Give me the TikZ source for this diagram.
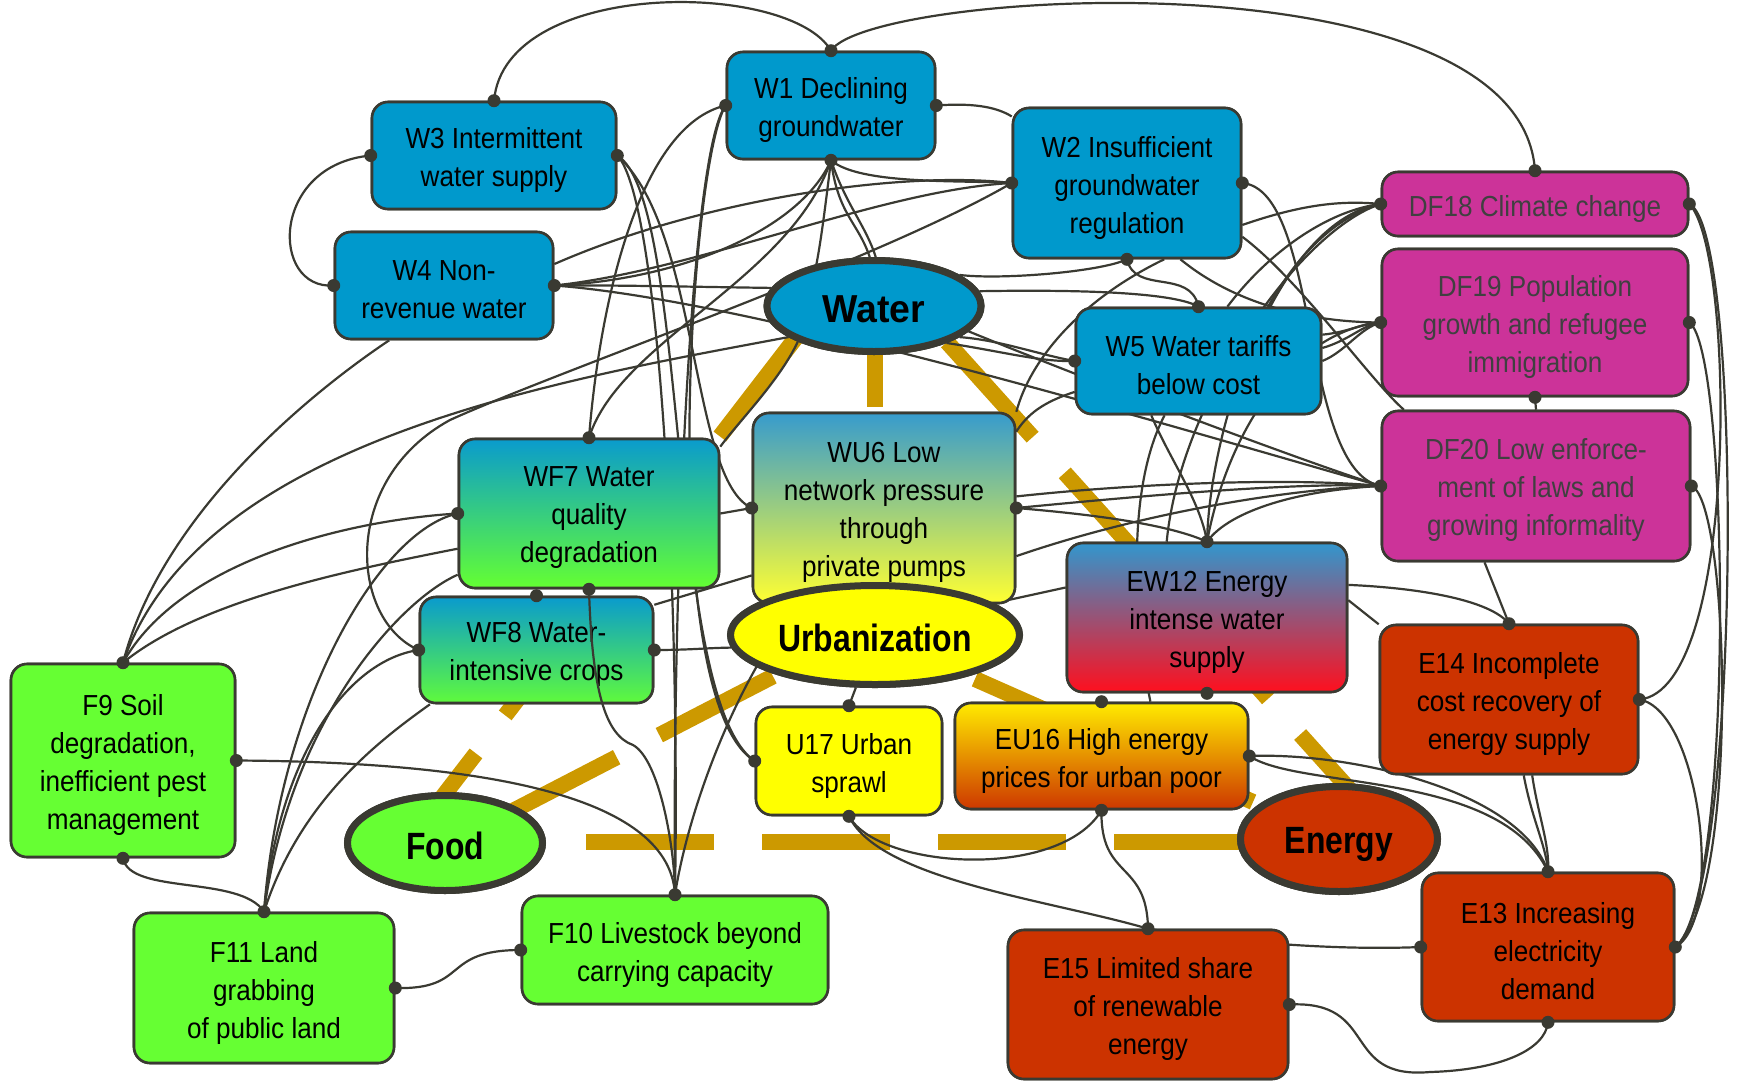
\documentclass[tikz,border=0pt]{standalone}
\usepackage{fontspec}
\newfontfamily\nf[FakeStretch=0.9]{Liberation Sans}
\newfontfamily\lf[FakeStretch=0.84]{Liberation Sans}
\newfontfamily\wf[FakeStretch=0.96]{Liberation Sans}
\usetikzlibrary{shapes.geometric,shadings}
\definecolor{ec}{HTML}{3A3A32}
\definecolor{wblue}{HTML}{0099CC}
\definecolor{dfm}{HTML}{CC3399}
\definecolor{ered}{HTML}{CC3300}
\definecolor{fgreen}{HTML}{66FF33}
\definecolor{uyel}{HTML}{FFFF00}
\definecolor{gold}{HTML}{CC9900}
\definecolor{dftext}{HTML}{404040}
\begin{document}
\begin{tikzpicture}[x=1pt,y=-1pt,
 box/.style={draw=ec, line width=2.6pt, rounded corners=16pt, inner sep=0pt},
 tl/.style={font=\nf\fontsize{29}{38}\selectfont, align=center, inner sep=0pt, yshift=-4.5pt},
 lab/.style={label={[tl]center:{#1}}},
 dlab/.style={label={[tl,text=dftext]center:{#1}}},
 ell/.style={ellipse, draw=ec, line width=7pt, inner sep=0pt},
 el/.style={font=\lf\bfseries\fontsize{38}{40}\selectfont, inner sep=0pt, yshift=-3pt},
 elab/.style={label={[el]center:{#1}}},
 con/.style={draw=ec, line width=2.2pt},
 goldl/.style={draw=gold, line width=16pt, dash pattern=on 128pt off 48pt}
]
\useasboundingbox (0,0) rectangle (1741,1080);

% gold dashed relations
\draw[goldl] (798,335) -- (397,856);
\draw[goldl] (875,279) -- (875,640);
\draw[goldl] (947,342) -- (1404,850);
\draw[goldl] (410,842) -- (1339,842);
\draw[goldl] (503,816) -- (874,624);
\draw[goldl] (975,679) -- (1339,840);

% ---------- node geometry (for connectors) ----------
\path
 node[box, minimum width=208pt, minimum height=107pt] (W1) at (831,105.5) {}
 node[box, minimum width=244pt, minimum height=107pt] (W3) at (494,155.5) {}
 node[box, minimum width=218pt, minimum height=107pt] (W4) at (444,285.5) {}
 node[box, minimum width=228pt, minimum height=150pt] (W2) at (1127,183) {}
 node[box, minimum width=306pt, minimum height=64pt] (DF18) at (1535,204) {}
 node[box, minimum width=306pt, minimum height=147pt] (DF19) at (1535,322.5) {}
 node[box, minimum width=308pt, minimum height=150pt] (DF20) at (1536,486) {}
 node[box, minimum width=245pt, minimum height=106pt] (W5) at (1198.5,361) {}
 node[box, minimum width=262pt, minimum height=190pt] (WU6) at (884,508) {}
 node[box, minimum width=260pt, minimum height=149pt] (WF7) at (589,513.5) {}
 node[box, minimum width=233pt, minimum height=106pt] (WF8) at (536.5,650) {}
 node[box, minimum width=280pt, minimum height=149pt] (EW12) at (1207,617.5) {}
 node[box, minimum width=258pt, minimum height=149pt] (E14) at (1509,699.5) {}
 node[box, minimum width=186pt, minimum height=108pt] (U17) at (849,761) {}
 node[box, minimum width=293pt, minimum height=106pt] (EU16) at (1101.5,756) {}
 node[box, minimum width=224pt, minimum height=193pt] (F9) at (123,760.5) {}
 node[box, minimum width=306pt, minimum height=108pt] (F10) at (675,950) {}
 node[box, minimum width=260pt, minimum height=150pt] (F11) at (264,988) {}
 node[box, minimum width=280pt, minimum height=149pt] (E15) at (1148,1004.5) {}
 node[box, minimum width=252pt, minimum height=148pt] (E13) at (1548,947) {}
 node[ell, minimum width=214pt, minimum height=91pt] (Water) at (874,306) {}
 node[ell, minimum width=289pt, minimum height=99pt] (Urb) at (875,635) {}
 node[ell, minimum width=195pt, minimum height=95pt] (Food) at (445,843) {}
 node[ell, minimum width=197pt, minimum height=105pt] (Energy) at (1339,839) {};

% ---------- connectors ----------
\draw[con] (W3.north) .. controls (505,-22) and (790,-20) .. (W1.north);
\draw[con] (W1.north) .. controls (870,-10) and (1520,-50) .. (DF18.north);
\draw[con] (W3.west) .. controls (270,165) and (270,290) .. (W4.west);
\draw[con] (W1.east) .. controls (970,103) and (995,106) .. (W2.150);
\draw[con] (W1.south) .. controls (860,185) and (960,180) .. (W2.west);
\draw[con] (W1.south) .. controls (826,200) and (822,235) .. (Water.144);
\draw[con] (W1.south) .. controls (838,215) and (858,222) .. (Water.95);
\draw[con] (W1.south) .. controls (846,205) and (866,226) .. (Water.88);
\draw[con] (W4.east) .. controls (620,285) and (700,287) .. (Water.170);
\draw[con] (W4.east) .. controls (680,280) and (800,230) .. (W1.south);
\draw[con] (W4.east) .. controls (700,270) and (880,190) .. (W2.west);
\draw[con] (W4.11) .. controls (700,200) and (900,170) .. (W2.west);
\draw[con] (W4.east) .. controls (750,300) and (1150,420) .. (DF20.west);
\draw[con] (Water.20) .. controls (1000,280) and (1100,272) .. (W2.south);
\draw[con] (Water.8) .. controls (1050,290) and (1170,290) .. (W5.north);
\draw[con] (Water.340) .. controls (1000,340) and (1040,355) .. (W5.west);
\draw[con] (Water.333) .. controls (1005,352) and (1040,362) .. (W5.west);
\draw[con] (Water.345) .. controls (1100,385) and (1300,460) .. (DF20.west);
\draw[con] (W2.south) .. controls (1135,295) and (1190,268) .. (W5.north);
\draw[con] (W2.east) .. controls (1320,190) and (1300,470) .. (DF20.west);
\draw[con] (W2.-20) .. controls (1300,205) and (1340,200) .. (DF18.west);
\draw[con] (W2.-55) .. controls (1230,300) and (1300,322) .. (DF19.west);
\draw[con] (W2.-25) .. controls (1300,280) and (1370,380) .. (DF20.150);
\draw[con] (W2.-64) .. controls (1080,300) and (1030,360) .. (WU6.36);
\draw[con] (W3.east) .. controls (660,200) and (680,600) .. (F10.north);
\draw[con] (W3.east) .. controls (690,200) and (665,700) .. (U17.west);
\draw[con] (W3.east) .. controls (700,230) and (690,480) .. (WU6.west);
\draw[con] (W1.west) .. controls (640,125) and (600,300) .. (WF7.north);
\draw[con] (W1.south) .. controls (790,280) and (620,340) .. (WF7.north);
\draw[con] (W1.west) .. controls (690,150) and (672,600) .. (F10.north);
\draw[con] (W1.west) .. controls (690,160) and (655,700) .. (U17.west);
% food side
\draw[con] (F9.north) .. controls (200,440) and (560,380) .. (Water.200);
\draw[con] (F9.north) .. controls (160,520) and (300,400) .. (W4.-135);
\draw[con] (F9.north) .. controls (180,560) and (350,520) .. (WF7.west);
\draw[con] (F9.north) .. controls (200,600) and (350,570) .. (WF7.195);
\draw[con] (F11.north) .. controls (280,700) and (380,530) .. (WF7.west);
\draw[con] (F11.north) .. controls (290,720) and (400,600) .. (WF7.205);
\draw[con] (F11.north) .. controls (280,750) and (350,660) .. (WF8.west);
\draw[con] (F11.north) .. controls (300,800) and (380,740) .. (WF8.-153);
\draw[con] (F9.south) .. controls (130,895) and (240,875) .. (F11.north);
\draw[con] (F9.east) .. controls (500,762) and (670,800) .. (F10.north);
\draw[con] (F11.east) .. controls (470,990) and (440,950) .. (F10.west);
\draw[con] (WF8.west) .. controls (350,620) and (340,480) .. (450,420) .. controls (560,370) and (880,260) .. (W2.west);
% centre
\draw[con] (WF7.east) -- (WU6.west);
\draw[con] (WF8.21) -- (WU6.-153);
\draw[con] (WF8.east) .. controls (690,650) and (705,648) .. (Urb.185);
\draw[con] (Water.205) .. controls (780,380) and (740,420) .. (WF7.27);
\draw[con] (Urb.250) -- (U17.north);
\draw[con] (Urb.195) .. controls (715,740) and (685,830) .. (F10.north);
\draw[con] (Urb.15) -- (EW12.168);
\draw[con] (WU6.east) .. controls (1100,515) and (1170,525) .. (EW12.north);
\draw[con] (WU6.east) .. controls (1150,495) and (1300,482) .. (DF20.west);
\draw[con] (WU6.5) .. controls (1150,482) and (1300,478) .. (DF20.west);
\draw[con] (WU6.-20) .. controls (1150,510) and (1300,488) .. (DF20.west);
\draw[con] (W5.-166) .. controls (1050,400) and (1030,410) .. (WU6.30);
\draw[con] (W5.12) .. controls (1350,332) and (1365,322) .. (DF19.west);
\draw[con] (W5.6) .. controls (1350,340) and (1362,325) .. (DF19.west);
\draw[con] (W5.0) .. controls (1345,352) and (1360,328) .. (DF19.west);
\draw[con] (W5.62) .. controls (1270,250) and (1330,210) .. (DF18.west);
\draw[con] (W5.38) .. controls (1300,250) and (1340,215) .. (DF18.west);
\draw[con] (DF18.west) .. controls (1280,220) and (1210,420) .. (EW12.north);
\draw[con] (DF18.west) .. controls (1300,230) and (1180,400) .. (EW12.118);
\draw[con] (DF19.west) .. controls (1300,330) and (1230,420) .. (EW12.north);
\draw[con] (W5.-131) .. controls (1170,460) and (1200,500) .. (EW12.north);
\draw[con] (W5.-122) .. controls (1120,500) and (1140,650) .. (EU16.48);
\draw[con] (DF20.west) .. controls (1300,490) and (1230,510) .. (EW12.north);
% right
\draw[con] (DF19.south) -- (DF20.north);
\draw[con] (DF18.east) .. controls (1745,230) and (1740,900) .. (E13.east);
\draw[con] (DF19.east) .. controls (1730,350) and (1735,900) .. (E13.east);
\draw[con] (DF20.east) .. controls (1730,500) and (1740,900) .. (E13.east);
\draw[con] (E14.east) .. controls (1740,690) and (1735,250) .. (DF18.east);
\draw[con] (E14.east) .. controls (1700,710) and (1725,920) .. (E13.east);
\draw[con] (DF20.-124) -- (E14.north);
\draw[con] (EW12.13) .. controls (1420,588) and (1490,600) .. (E14.north);
\draw[con] (EW12.7) -- (E14.150);
\draw[con] (E14.-79) .. controls (1532,820) and (1546,845) .. (E13.north);
\draw[con] (E14.-73) .. controls (1538,815) and (1550,845) .. (E13.north);
\draw[con] (EU16.east) .. controls (1300,790) and (1500,770) .. (E13.north);
\draw[con] (EU16.east) .. controls (1350,752) and (1520,790) .. (E13.north);
\draw[con] (EU16.south) .. controls (1060,880) and (880,870) .. (U17.south);
\draw[con] (U17.south) .. controls (880,880) and (1050,900) .. (E15.north);
\draw[con] (E15.north) .. controls (1250,945) and (1350,950) .. (E13.west);
\draw[con] (EU16.south) .. controls (1100,880) and (1147,860) .. (E15.north);
\draw[con] (E15.east) .. controls (1380,1000) and (1340,1080) .. (1430,1072) .. controls (1500,1070) and (1545,1050) .. (E13.south);

% ---------- visible nodes ----------
\node[box, fill=wblue, minimum width=208pt, minimum height=107pt, lab={W1 Declining\\groundwater}] at (W1) {};
\node[box, fill=wblue, minimum width=244pt, minimum height=107pt, lab={W3 Intermittent\\water supply}] at (W3) {};
\node[box, fill=wblue, minimum width=218pt, minimum height=107pt, lab={W4 Non-\\revenue water}] at (W4) {};
\node[box, fill=wblue, minimum width=228pt, minimum height=150pt, lab={W2 Insufficient\\groundwater\\regulation}] at (W2) {};
\node[box, fill=dfm, minimum width=306pt, minimum height=64pt, dlab={DF18 Climate change}] at (DF18) {};
\node[box, fill=dfm, minimum width=306pt, minimum height=147pt, dlab={DF19 Population\\growth and refugee\\immigration}] at (DF19) {};
\node[box, fill=dfm, minimum width=308pt, minimum height=150pt, dlab={DF20 Low enforce-\\ment of laws and\\growing informality}] at (DF20) {};
\node[box, fill=wblue, minimum width=245pt, minimum height=106pt, lab={W5 Water tariffs\\below cost}] at (W5) {};
\node[box, top color={rgb,255:red,55;green,155;blue,205}, bottom color={rgb,255:red,255;green,255;blue,50}, minimum width=262pt, minimum height=190pt, lab={WU6 Low\\network pressure\\through\\private pumps}] at (WU6) {};
\node[box, top color={rgb,255:red,10;green,155;blue,205}, bottom color={rgb,255:red,100;green,255;blue,50}, minimum width=260pt, minimum height=149pt, lab={WF7 Water\\quality\\degradation}] at (WF7) {};
\node[box, top color={rgb,255:red,10;green,155;blue,205}, bottom color={rgb,255:red,95;green,250;blue,60}, minimum width=233pt, minimum height=106pt, lab={WF8 Water-\\intensive crops}] at (WF8) {};
\node[box, top color={rgb,255:red,50;green,150;blue,205}, bottom color={rgb,255:red,255;green,15;blue,30}, minimum width=280pt, minimum height=149pt, lab={EW12 Energy\\intense water\\supply}] at (EW12) {};
\node[box, fill=ered, minimum width=258pt, minimum height=149pt, lab={E14 Incomplete\\cost recovery of\\energy supply}] at (E14) {};
\node[box, fill=uyel, minimum width=186pt, minimum height=108pt, lab={U17 Urban\\sprawl}] at (U17) {};
\node[box, top color={rgb,255:red,255;green,235;blue,0}, bottom color={rgb,255:red,205;green,55;blue,0}, minimum width=293pt, minimum height=106pt, lab={EU16 High energy\\prices for urban poor}] at (EU16) {};
\node[box, fill=fgreen, minimum width=224pt, minimum height=193pt, lab={F9 Soil\\degradation,\\inefficient pest\\management}] at (F9) {};
\node[box, fill=fgreen, minimum width=306pt, minimum height=108pt, lab={F10 Livestock beyond\\carrying capacity}] at (F10) {};
\node[box, fill=fgreen, minimum width=260pt, minimum height=150pt, lab={F11 Land\\grabbing\\of public land}] at (F11) {};
\node[box, fill=ered, minimum width=280pt, minimum height=149pt, lab={E15 Limited share\\of renewable\\energy}] at (E15) {};
\node[box, fill=ered, minimum width=252pt, minimum height=148pt, lab={E13 Increasing\\electricity\\demand}] at (E13) {};
\node[ell, fill=wblue, minimum width=214pt, minimum height=91pt, label={[el, font=\wf\bfseries\fontsize{39}{40}\selectfont]center:Water}] at (Water) {};
\node[ell, fill=uyel, minimum width=289pt, minimum height=99pt, elab=Urbanization] at (Urb) {};
\node[ell, fill=fgreen, minimum width=195pt, minimum height=95pt, elab=Food] at (Food) {};
\node[ell, fill=ered, minimum width=197pt, minimum height=105pt, label={[el, yshift=-2pt]center:Energy}] at (Energy) {};

% connector drawn over WF8
\draw[con] (WF7.south) .. controls (592,690) and (605,735) .. (633,745) .. controls (660,760) and (675,850) .. (F10.north);

% ---------- end dots ----------
\foreach \a in {W1.north,W1.west,W1.east,W1.south,W3.north,W3.west,W3.east,W4.west,W4.east,
  W2.west,W2.east,W2.south,DF18.north,DF18.west,DF18.east,DF19.west,DF19.east,DF19.south,
  DF20.west,DF20.east,W5.north,W5.west,WU6.west,WU6.east,WF7.north,WF7.west,WF7.south,
  WF8.west,WF8.east,WF8.north,U17.north,U17.west,U17.south,EU16.north,EU16.east,EU16.south,
  EW12.north,EW12.south,E14.north,E14.east,E13.north,E13.west,E13.east,E13.south,
  E15.north,E15.east,F9.north,F9.east,F9.south,F11.north,F11.east,F10.north,F10.west}
  \fill[ec] (\a) circle (6.5pt);
\end{tikzpicture}
\end{document}
